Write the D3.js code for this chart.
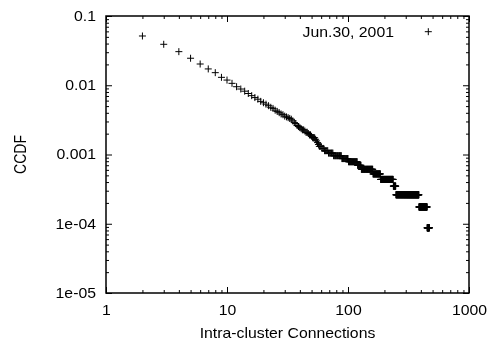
<!DOCTYPE html>
<html>
<head>
<meta charset="utf-8">
<script src="https://cdn.jsdelivr.net/npm/d3@7"></script>
<style>
  body { margin: 0; background: #fff; }
  svg { will-change: transform; }
  svg text { font-family: "Liberation Sans", Arial, sans-serif; font-size: 14px; fill: #000; }
</style>
</head>
<body>
<div id="chart"></div>
<script>
// clusters with at least k intra-cluster connections, k = 2, 3, ...
const totalClusters = 11450
const headStartK = 2
const headCounts = [589, 447, 350, 281, 232, 197, 174, 149, 136, 122, 109, 101, 94, 87, 81, 76,
    72, 67, 64, 61, 58, 55, 53, 50, 48, 46, 44, 43, 41, 40, 39, 38, 37, 35, 33, 32, 30, 29, 28,
    27, 26, 26, 25, 24, 24, 23, 22, 22, 21, 20, 20, 20, 19, 18, 17, 16, 15, 15, 15, 14, 14, 14]
// [from k, to k, clusters with at least k] where the count stays the same
const tailRuns = [[64, 68, 13], [69, 75, 12], [76, 88, 11], [89, 100, 10], [101, 119, 9],
    [120, 128, 8], [129, 160, 7], [161, 185, 6], [186, 236, 5], [237, 248, 4],
    [249, 385, 3], [386, 450, 2], [451, 470, 1]]

const xTicks = [1, 10, 100, 1000]
const yTicks = [0.1, 0.01, 0.001, 1e-4, 1e-5]
const yTickLabels = ["0.1", "0.01", "0.001", "1e-04", "1e-05"]
const seriesName = "Jun.30, 2001"

let points = []
headCounts.forEach((c, i) => points.push({ k: headStartK + i, p: c / totalClusters }))
tailRuns.forEach(([a, b, c]) => {
    for (let k = a; k <= b; k++) points.push({ k: k, p: c / totalClusters })
})

const W = 491, H = 343
const margin = { top: 16, right: 22, bottom: 50, left: 106 },
    width = W - margin.left - margin.right,
    height = H - margin.top - margin.bottom
const stretch = 1.13

const svg = d3.select("#chart").append("svg")
    .attr("width", W).attr("height", H)
const g = svg.append("g")
    .attr("transform", "translate(" + margin.left + "," + margin.top + ")")

const x = d3.scaleLog().domain([1, 1000]).range([0, width])
const y = d3.scaleLog().domain([1e-5, 0.1]).range([height, 0])

// minor ticks 2..9 of every decade
let xMinor = [], yMinor = []
for (let d = 1; d < 1000; d *= 10) for (let m = 2; m <= 9; m++) xMinor.push(d * m)
for (let d = 1e-5; d < 0.09; d *= 10) for (let m = 2; m <= 9; m++) yMinor.push(d * m)

function styleAxis(sel) {
    sel.select(".domain").remove()
    sel.selectAll("line").attr("stroke", "#000").attr("stroke-width", 1)
}

// left
g.append("g").call(d3.axisLeft(y).tickValues(yMinor).tickSize(-3).tickFormat("")).call(styleAxis)
g.append("g").call(d3.axisLeft(y).tickValues(yTicks).tickSize(-6).tickPadding(10)
    .tickFormat((d, i) => yTickLabels[i]))
    .call(styleAxis)
    .call(s => s.selectAll("text")
        .attr("x", -10 / stretch)
        .attr("transform", "scale(" + stretch + ",1)")
        .attr("font-family", null).attr("font-size", null))
// right
g.append("g").attr("transform", `translate(${width},0)`)
    .call(d3.axisRight(y).tickValues(yMinor).tickSize(-3).tickFormat("")).call(styleAxis)
g.append("g").attr("transform", `translate(${width},0)`)
    .call(d3.axisRight(y).tickValues(yTicks).tickSize(-6).tickFormat("")).call(styleAxis)
// bottom
g.append("g").attr("transform", `translate(0,${height})`)
    .call(d3.axisBottom(x).tickValues(xMinor).tickSize(-3).tickFormat("")).call(styleAxis)
g.append("g").attr("transform", `translate(0,${height})`)
    .call(d3.axisBottom(x).tickValues(xTicks).tickSize(-6).tickPadding(12).tickFormat(d3.format("d")))
    .call(styleAxis)
    .call(s => s.selectAll("text")
        .attr("transform", "scale(" + stretch + ",1)")
        .attr("font-family", null).attr("font-size", null))
// top
g.append("g").call(d3.axisTop(x).tickValues(xMinor).tickSize(-3).tickFormat("")).call(styleAxis)
g.append("g").call(d3.axisTop(x).tickValues(xTicks).tickSize(-6).tickFormat("")).call(styleAxis)

// frame
g.append("rect")
    .attr("width", width).attr("height", height)
    .attr("fill", "none").attr("stroke", "#000").attr("stroke-width", 1.5)

// axis titles
g.append("text")
    .attr("transform", `translate(${width / 2},${height + 45}) scale(${stretch},1)`)
    .attr("text-anchor", "middle")
    .text("Intra-cluster Connections")
g.append("text")
    .attr("transform", `translate(${-80},${height / 2}) scale(${stretch},1) rotate(-90)`)
    .attr("text-anchor", "middle")
    .attr("fill", "#000")
    .text("CCDF")

// points
const plus = "M-3.5,0H3.5M0,-3.5V3.5"
g.append("g").selectAll("path")
    .data(points)
    .enter()
    .append("path")
    .attr("d", plus)
    .attr("transform", d => `translate(${x(d.k)},${y(d.p)})`)
    .attr("fill", "none")
    .attr("stroke", "#000")
    .attr("stroke-width", 1)

// legend
g.append("text")
    .attr("transform", `translate(${288},${20.5}) scale(${stretch},1)`)
    .attr("text-anchor", "end")
    .text(seriesName)
g.append("path")
    .attr("d", plus)
    .attr("transform", `translate(${322.3},${15.7})`)
    .attr("fill", "none").attr("stroke", "#000").attr("stroke-width", 1)
</script>
</body>
</html>
